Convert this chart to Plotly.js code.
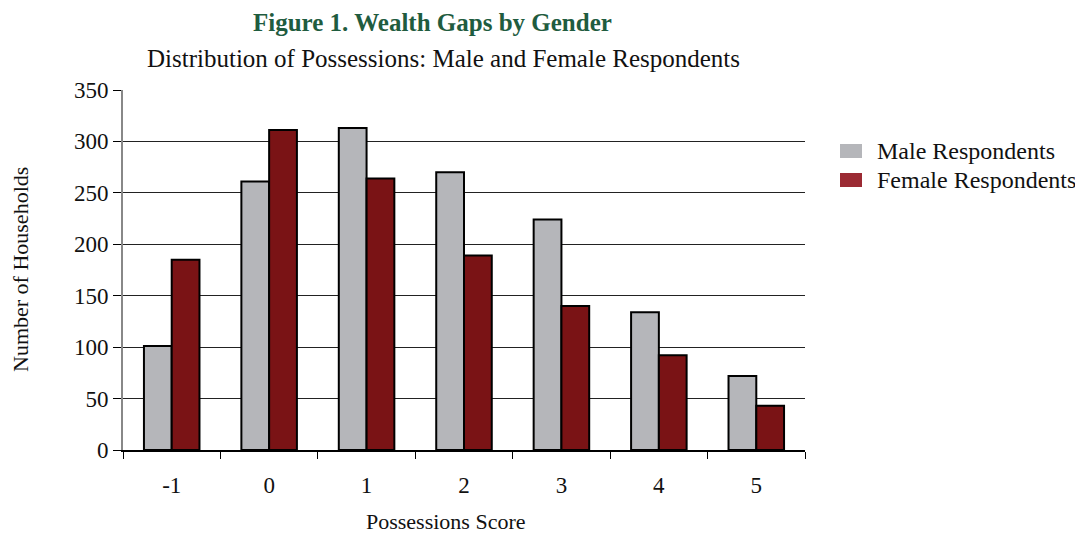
<!DOCTYPE html>
<html>
<head>
<meta charset="utf-8">
<script src="https://cdn.plot.ly/plotly-3.0.1.min.js"></script>
<style>html,body{margin:0;padding:0;background:#fff;}#chart{width:1075px;height:535px;}</style>
</head>
<body>
<div id="chart"></div>
<script>
const categories = ["-1", "0", "1", "2", "3", "4", "5"];
const maleValues = [101, 261, 313, 270, 224, 134, 72];
const femaleValues = [185, 311, 264, 189, 140, 92, 43];
const yTicks = [0, 50, 100, 150, 200, 250, 300, 350];
const seriesNames = ["Male Respondents", "Female Respondents"];
const legendColors = ["#b5b6ba", "#9b2a33"];

const serif = "Liberation Serif, Times New Roman, serif";
const PL = 123, PR = 805, PT = 90, PB = 450;
const px = v => (v - PL) / (PR - PL);
const py = v => (PB - v) / (PB - PT);

const traces = [
  {
    type: "bar", name: seriesNames[0], x: categories, y: maleValues, showlegend: false,
    marker: {color: "#b5b6ba", line: {color: "#000", width: 2}}
  },
  {
    type: "bar", name: seriesNames[1], x: categories, y: femaleValues, showlegend: false,
    marker: {color: "#7a1315", line: {color: "#000", width: 2}}
  }
];

const shapes = [];
const annotations = [];
seriesNames.forEach((n, i) => {
  const yc = 151 + i * 29;
  shapes.push({type: "rect", xref: "paper", yref: "paper",
    x0: px(840), x1: px(862), y0: py(yc + 7), y1: py(yc - 7),
    fillcolor: legendColors[i], line: {width: 0}});
  annotations.push({text: n, xref: "paper", yref: "paper",
    x: px(875), y: py(yc), xanchor: "left", yanchor: "middle",
    showarrow: false, font: {family: serif, size: 24, color: "#111"}});
});

annotations.push(
  {text: "<b>Figure 1. Wealth Gaps by Gender</b>", xref: "paper", yref: "paper",
   x: px(432), y: py(22), xanchor: "center", yanchor: "middle", showarrow: false,
   font: {family: serif, size: 25, color: "#1f5c3f"}},
  {text: "Distribution of Possessions: Male and Female Respondents", xref: "paper", yref: "paper",
   x: px(443), y: py(58), xanchor: "center", yanchor: "middle", showarrow: false,
   font: {family: serif, size: 25, color: "#111"}},
  {text: "Possessions Score", xref: "paper", yref: "paper",
   x: px(446), y: py(521), xanchor: "center", yanchor: "middle", showarrow: false,
   font: {family: serif, size: 22, color: "#111"}},
  {text: "Number of Households", xref: "paper", yref: "paper", textangle: -90,
   x: px(20), y: py(270), xanchor: "center", yanchor: "middle", showarrow: false,
   font: {family: serif, size: 22, color: "#111"}}
);

const layout = {
  width: 1075, height: 535,
  margin: {l: PL, r: 1075 - PR, t: PT, b: 535 - PB},
  paper_bgcolor: "#fff", plot_bgcolor: "#fff",
  barmode: "group", bargap: 0.43, bargroupgap: 0,
  font: {family: serif, color: "#111", size: 23},
  showlegend: false,
  xaxis: {
    type: "category", tickson: "boundaries", ticks: "outside", ticklen: 7, tickcolor: "#000",
    showline: true, linecolor: "#000", linewidth: 1.5, showgrid: false,
    tickfont: {family: serif, size: 23}, ticklabelstandoff: 14
  },
  yaxis: {
    range: [0, 350], tickvals: yTicks, ticks: "outside", ticklen: 8, tickcolor: "#000",
    showline: true, linecolor: "#888", linewidth: 2, showgrid: true, gridcolor: "#222", gridwidth: 1,
    zeroline: false, tickfont: {family: serif, size: 23}, ticklabelstandoff: 0
  },
  shapes: shapes,
  annotations: annotations
};

Plotly.newPlot("chart", traces, layout, {displayModeBar: false, responsive: false});
</script>
</body>
</html>
